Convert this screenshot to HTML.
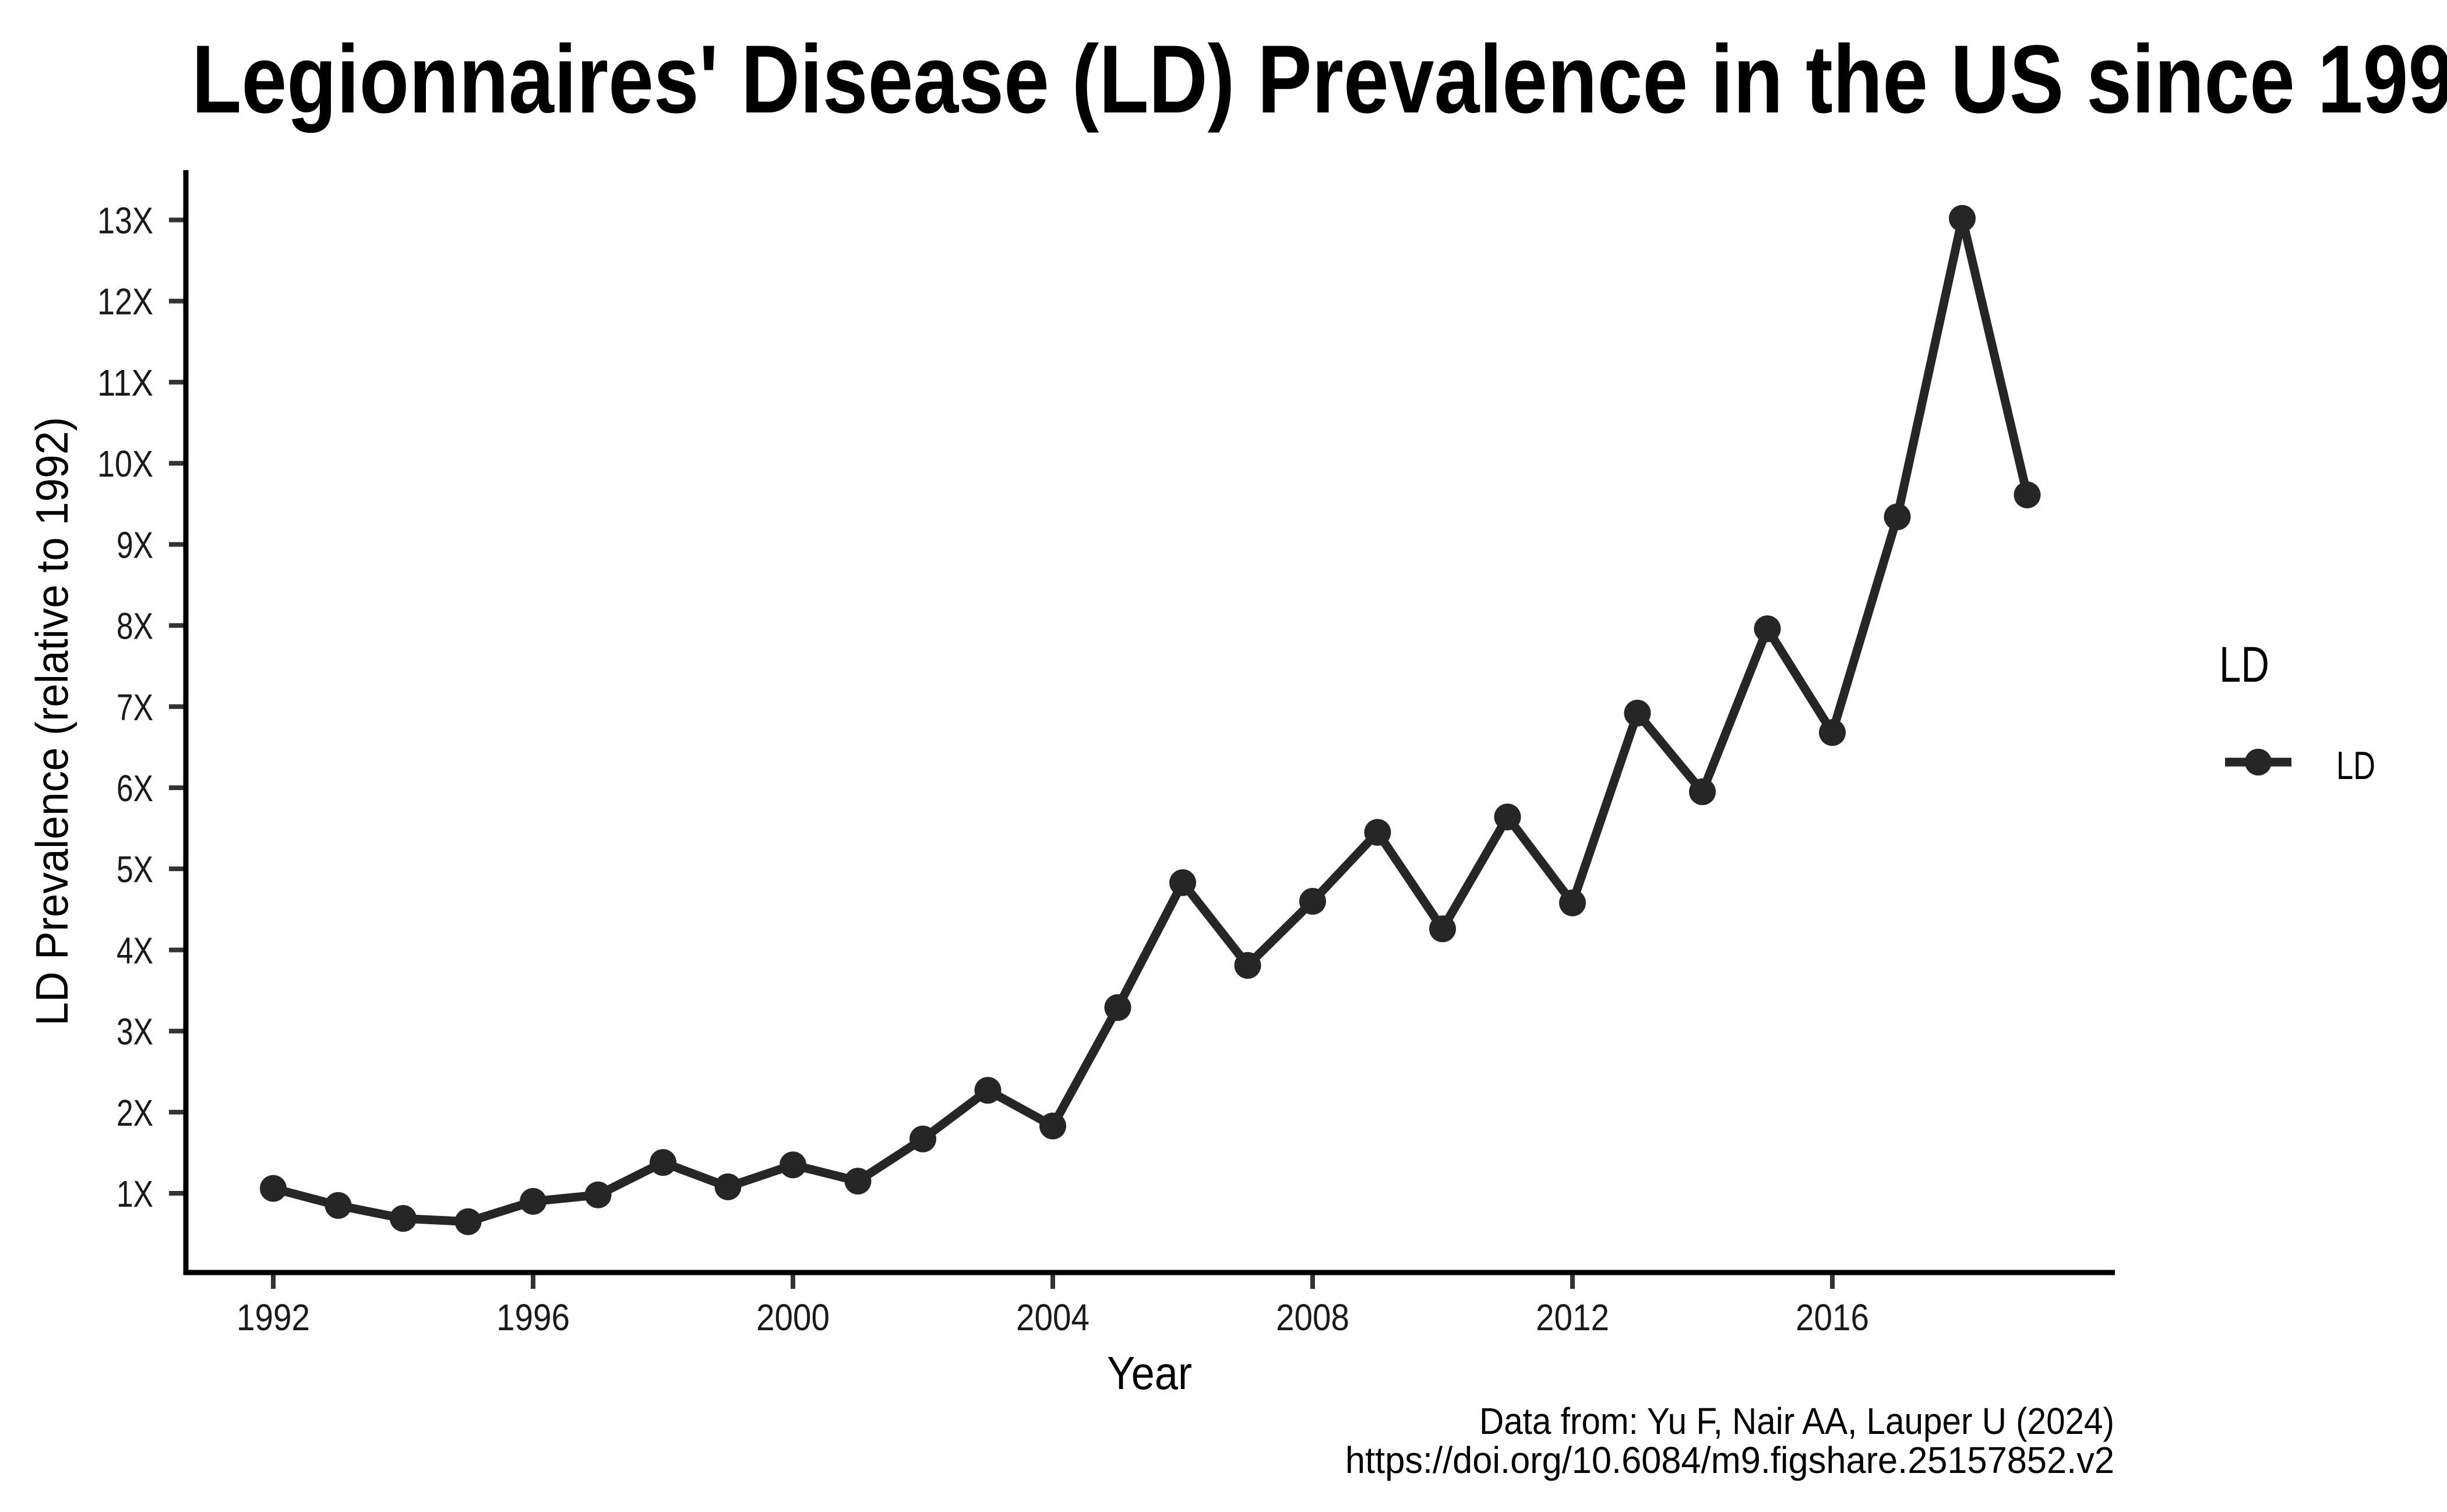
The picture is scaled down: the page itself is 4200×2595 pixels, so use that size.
<!DOCTYPE html>
<html><head><meta charset="utf-8"><style>
html,body{margin:0;padding:0;background:#fff;}
svg{display:block;font-family:"Liberation Sans",sans-serif;}
</style></head><body>
<svg id="chart" width="4200" height="2595" viewBox="0 0 4200 2595" xmlns="http://www.w3.org/2000/svg">
<rect width="4200" height="2595" fill="#fff"/>
<text x="329" y="193" font-size="166" font-weight="bold" fill="#000" textLength="3960" lengthAdjust="spacingAndGlyphs">Legionnaires' Disease (LD) Prevalence in the US since 1992</text>
<g id="yticks"></g>
<g id="xticks"></g>
<line x1="319" y1="292" x2="319" y2="2188" stroke="#000" stroke-width="9"/>
<line x1="315" y1="2184" x2="3630" y2="2184" stroke="#000" stroke-width="9"/>
<g id="series"></g>
<text transform="translate(116,1238) rotate(-90)" text-anchor="middle" font-size="78" fill="#000" textLength="1045" lengthAdjust="spacingAndGlyphs">LD Prevalence (relative to 1992)</text>
<text x="1973" y="2384" text-anchor="middle" font-size="80" fill="#000" textLength="146" lengthAdjust="spacingAndGlyphs">Year</text>
<g>
<text x="3809" y="1170" font-size="86" fill="#000" textLength="86" lengthAdjust="spacingAndGlyphs">LD</text>
<line x1="3819" y1="1308" x2="3933" y2="1308" stroke="#262626" stroke-width="15"/>
<circle cx="3876" cy="1308" r="23" fill="#262626"/>
<text x="4010" y="1337" font-size="68" fill="#000" textLength="67" lengthAdjust="spacingAndGlyphs">LD</text>
</g>
<text x="3629" y="2461" text-anchor="end" font-size="64" fill="#000" textLength="1090" lengthAdjust="spacingAndGlyphs">Data from: Yu F, Nair AA, Lauper U (2024)</text>
<text x="3629" y="2528" text-anchor="end" font-size="64" fill="#000" textLength="1320" lengthAdjust="spacingAndGlyphs">https://doi.org/10.6084/m9.figshare.25157852.v2</text>
</svg>
<script>
const years = [1992,1993,1994,1995,1996,1997,1998,1999,2000,2001,2002,2003,2004,2005,2006,2007,2008,2009,2010,2011,2012,2013,2014,2015,2016,2017,2018,2019];
const values = [1.06,0.85,0.69,0.65,0.9,0.98,1.38,1.08,1.35,1.15,1.67,2.27,1.83,3.29,4.83,3.81,4.6,5.45,4.26,5.64,4.58,6.92,5.95,7.96,6.68,9.34,13.02,9.61];
const yTicks = [1,2,3,4,5,6,7,8,9,10,11,12,13];
const yTickLabels = ["1X","2X","3X","4X","5X","6X","7X","8X","9X","10X","11X","12X","13X"];
const xTicks = [1992,1996,2000,2004,2008,2012,2016];
const xTickLabels = ["1992","1996","2000","2004","2008","2012","2016"];

const NS = "http://www.w3.org/2000/svg";
function xs(yr){ return 469 + (yr - 1992) * (3145 - 469) / 24; }
function ys(v){ return 2048 - (v - 1) * (2048 - 377.5) / 12; }
function mk(tag, attrs, parent){ const e=document.createElementNS(NS,tag); for(const k in attrs) e.setAttribute(k,attrs[k]); parent.appendChild(e); return e; }

const yg = document.getElementById('yticks');
yTicks.forEach((t,i)=>{
  const l = mk('line',{x1:290,x2:319,y1:ys(t),y2:ys(t),stroke:'#333','stroke-width':8},yg);
  
  
  const lab = yTickLabels[i];
  const tx = mk('text',{x:263,y:ys(t)+23,'text-anchor':'end','font-size':64,fill:'#1a1a1a',textLength:(lab.length===3?96:63),lengthAdjust:'spacingAndGlyphs'},yg);
  tx.textContent = lab;
  
  
});
const xg = document.getElementById('xticks');
xTicks.forEach((t,i)=>{
  const l = mk('line',{x1:xs(t),x2:xs(t),y1:2184,y2:2212,stroke:'#333','stroke-width':8},xg);
  
  
  const tx = mk('text',{x:xs(t),y:2283,'text-anchor':'middle','font-size':64,fill:'#1a1a1a',textLength:126,lengthAdjust:'spacingAndGlyphs'},xg);
  tx.textContent = xTickLabels[i];
  
  
});
const sg = document.getElementById('series');
const pts = years.map((y,i)=>xs(y).toFixed(1)+','+ys(values[i]).toFixed(1)).join(' ');
const pl = mk('polyline',{points:pts,fill:'none',stroke:'#262626','stroke-width':15,'stroke-linejoin':'round'},sg);


years.forEach((y,i)=>{
  const c = mk('circle',{cx:xs(y),cy:ys(values[i]),r:23,fill:'#262626'},sg);
  
  
});
</script>
</body></html>
